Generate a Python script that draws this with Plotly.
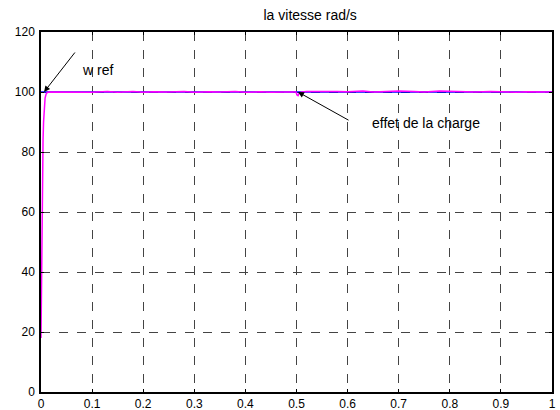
import plotly.graph_objects as go

# Reference speed (rad/s)
t_ref = [0.0, 1.0]
w_ref = [100.0, 100.0]

# Measured speed (rad/s)
t_w = [0.0, 0.001, 0.002, 0.003, 0.004, 0.005, 0.006, 0.007, 0.008, 0.010, 0.012, 0.015,
       0.02, 0.05, 0.09, 0.1, 0.13, 0.15, 0.18, 0.2, 0.22, 0.25, 0.28, 0.3, 0.33, 0.35,
       0.38, 0.4, 0.43, 0.45, 0.48, 0.499, 0.501, 0.503, 0.505, 0.51, 0.52, 0.55, 0.58,
       0.6, 0.63, 0.65, 0.68, 0.7, 0.73, 0.75, 0.78, 0.8, 0.83, 0.85, 0.88, 0.9, 0.93,
       0.95, 0.98, 1.0]
w = [18.0, 40.0, 60.0, 74.0, 84.0, 90.0, 94.0, 96.5, 98.0, 99.3, 99.8, 100.0,
     100.0, 100.0, 100.1, 99.9, 100.2, 99.9, 100.2, 99.9, 100.1, 100.0, 100.2, 99.9, 100.1, 100.0,
     100.2, 99.9, 100.1, 99.9, 100.0, 100.0, 99.0, 98.8, 99.6, 100.0, 100.2, 100.3, 100.2,
     100.1, 100.3, 100.0, 100.2, 100.3, 100.2, 100.0, 100.3, 100.2, 100.1, 100.0, 100.2, 100.1, 99.9,
     100.1, 100.0, 100.0]

x_ticks = [0, 0.1, 0.2, 0.3, 0.4, 0.5, 0.6, 0.7, 0.8, 0.9, 1]
x_tick_text = ["0", "0.1", "0.2", "0.3", "0.4", "0.5", "0.6", "0.7", "0.8", "0.9", "1"]
y_ticks = [0, 20, 40, 60, 80, 100, 120]

fig = go.Figure()
fig.add_trace(go.Scatter(x=t_ref, y=w_ref, mode="lines",
                         line=dict(color="#0000ff", width=1.5), showlegend=False))
fig.add_trace(go.Scatter(x=t_w, y=w, mode="lines",
                         line=dict(color="#ff00ff", width=1.5), showlegend=False))

tick_font = dict(family="Liberation Sans, Arial, sans-serif", size=12, color="black")
text_font = dict(family="Liberation Sans, Arial, sans-serif", size=14, color="black")

axis_common = dict(
    showline=True, linecolor="black", linewidth=1.5, mirror="ticks",
    ticks="inside", ticklen=3, tickcolor="black",
    showgrid=True, gridcolor="#444444", griddash="dash", gridwidth=1,
    zeroline=False, tickfont=tick_font, automargin=False,
)

fig.update_xaxes(range=[0, 1], tickvals=x_ticks, ticktext=x_tick_text, ticklabelstandoff=0, **axis_common)
fig.update_yaxes(range=[0, 120], tickvals=y_ticks, ticklabelstandoff=2, **axis_common)

fig.add_annotation(x=0.006, y=100, ax=32, ay=-41, axref="pixel", ayref="pixel",
                   xref="x", yref="y", text="", showarrow=True,
                   arrowhead=2, arrowsize=1.2, arrowwidth=1, arrowcolor="black")
fig.add_annotation(x=0.1115, y=107.3, xref="x", yref="y", text="w ref",
                   showarrow=False, font=text_font, xanchor="center", yanchor="middle")

fig.add_annotation(x=0.503, y=100, ax=52, ay=29, axref="pixel", ayref="pixel",
                   xref="x", yref="y", text="", showarrow=True,
                   arrowhead=2, arrowsize=1.2, arrowwidth=1, arrowcolor="black")
fig.add_annotation(x=0.753, y=89.7, xref="x", yref="y", text="effet de la charge",
                   showarrow=False, font=text_font, xanchor="center", yanchor="middle")

fig.update_layout(
    width=560, height=410,
    margin=dict(l=41, r=8, t=32, b=18),
    paper_bgcolor="white", plot_bgcolor="white",
    title=dict(text="la vitesse rad/s", x=295 / 560, xanchor="center",
               xref="paper", y=1 - 15 / 410, yref="container", yanchor="middle",
               automargin=False, font=text_font),
)

fig.write_html("out.html", config={"displayModeBar": False},
               post_script="document.body.style.margin='0px';")
